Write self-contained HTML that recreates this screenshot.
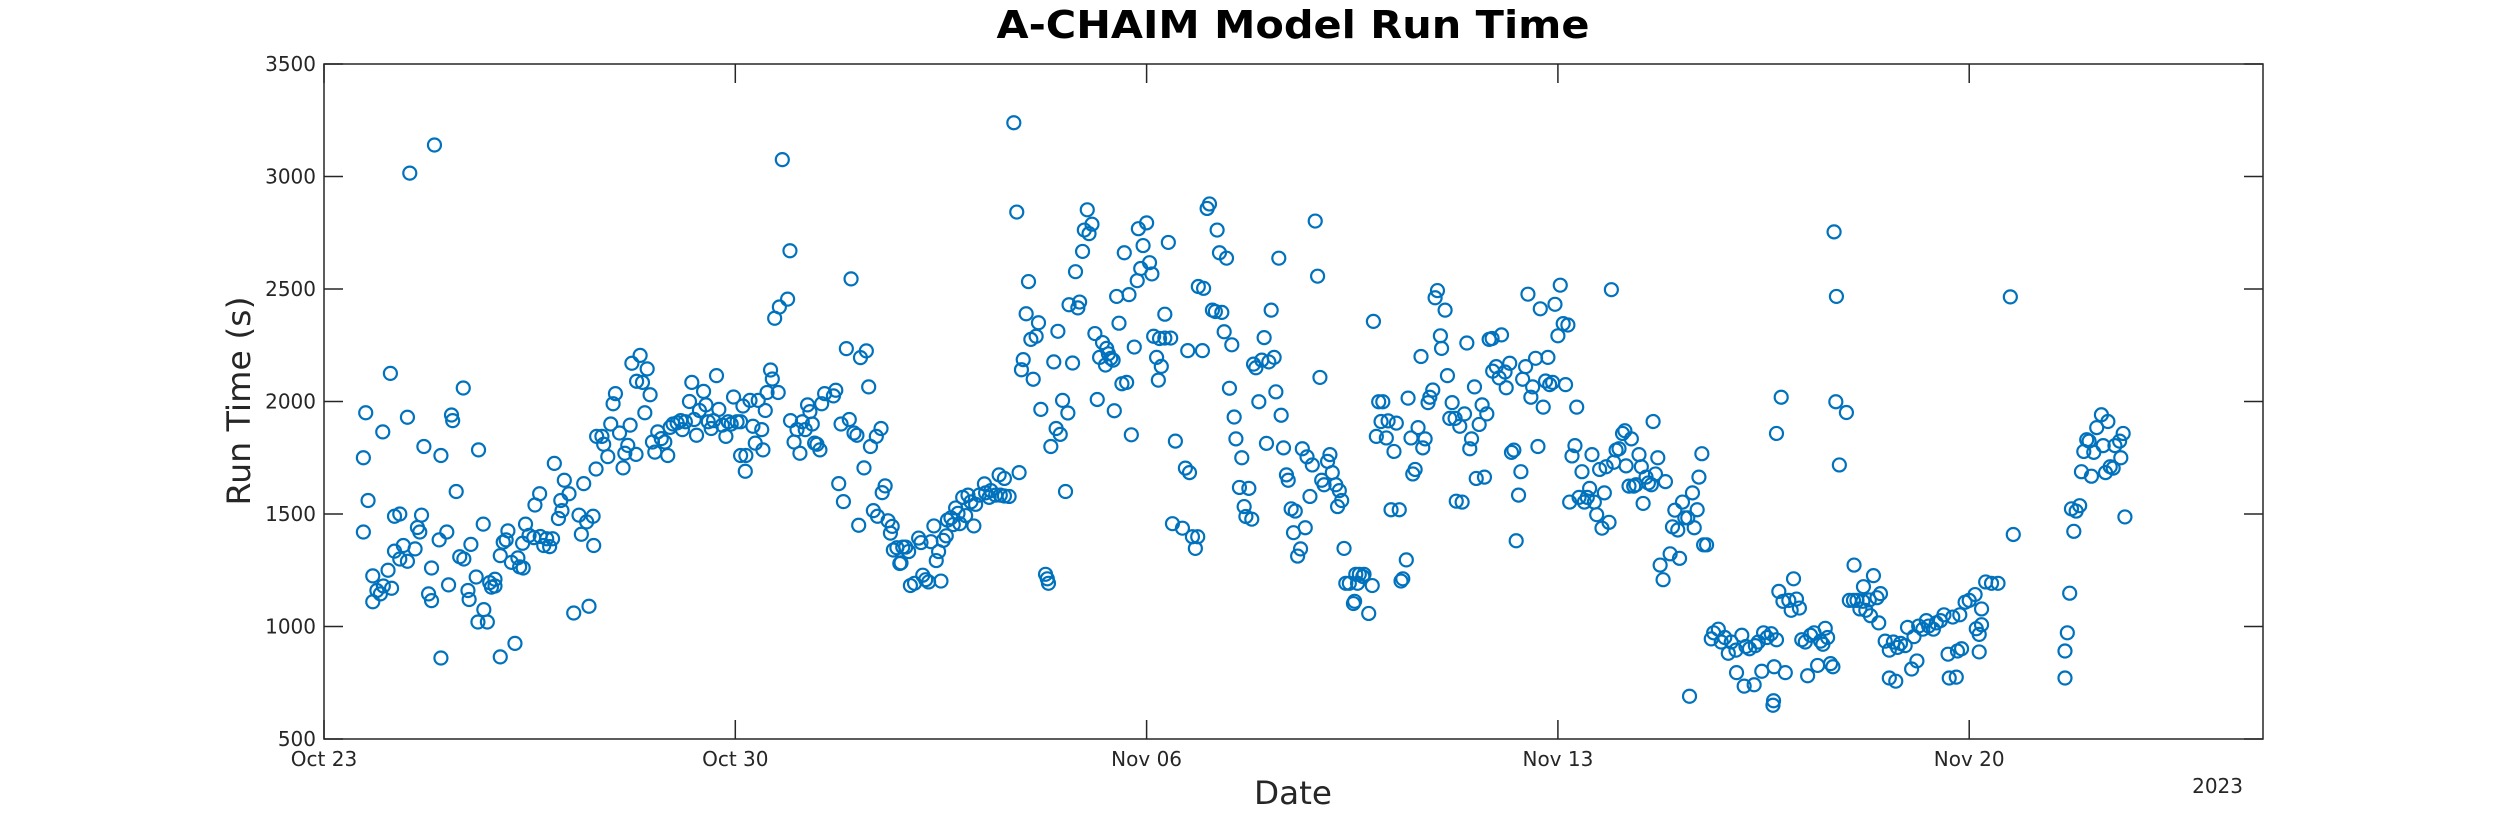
<!DOCTYPE html>
<html><head><meta charset="utf-8"><title>A-CHAIM Model Run Time</title>
<style>html,body{margin:0;padding:0;background:#fff;}svg{display:block;font-family:"DejaVu Sans","Liberation Sans",sans-serif;}</style>
</head><body>
<svg id="chart" width="2500" height="833" viewBox="0 0 2500 833" xmlns="http://www.w3.org/2000/svg">
<rect x="0" y="0" width="2500" height="833" fill="#fff"/>
<text x="1293" y="38" text-anchor="middle" font-size="38" font-weight="bold" fill="#000" textLength="593" lengthAdjust="spacingAndGlyphs">A-CHAIM Model Run Time</text>
<g id="axes"></g>
<g id="marks"></g>
<text x="1293" y="804" text-anchor="middle" font-size="32" fill="#262626" textLength="78" lengthAdjust="spacingAndGlyphs">Date</text>
<text transform="translate(250,401) rotate(-90)" text-anchor="middle" font-size="32" fill="#262626" textLength="209" lengthAdjust="spacingAndGlyphs">Run Time (s)</text>
<text x="2243" y="793" text-anchor="end" font-size="20" fill="#262626">2023</text>
</svg>
<script>
const xTickDays = [0, 7, 14, 21, 28];
const xTickLabels = ["Oct 23", "Oct 30", "Nov 06", "Nov 13", "Nov 20"];
const yTickValues = [500, 1000, 1500, 2000, 2500, 3000, 3500];
const xDomain = [0, 33];
const yDomain = [500, 3500];
// days since Oct 23 00:00
const days = [0.67,0.67,0.71,0.75,0.83,0.83,0.9,0.96,1.0,1.01,1.09,1.13,1.15,1.2,1.2,1.29,1.29,1.35,1.42,1.42,1.46,1.55,1.59,1.63,1.66,1.7,1.78,1.83,1.83,1.88,1.96,1.99,1.99,2.09,2.12,2.17,2.19,2.25,2.31,2.37,2.38,2.45,2.47,2.5,2.59,2.62,2.63,2.71,2.72,2.78,2.82,2.85,2.91,2.91,3.0,3.0,3.05,3.1,3.13,3.19,3.25,3.3,3.33,3.39,3.38,3.43,3.49,3.57,3.59,3.67,3.68,3.74,3.79,3.84,3.89,3.92,3.99,4.03,4.05,4.09,4.17,4.25,4.34,4.38,4.42,4.47,4.51,4.58,4.59,4.63,4.64,4.73,4.76,4.83,4.88,4.92,4.96,5.03,5.09,5.12,5.17,5.21,5.24,5.31,5.32,5.38,5.42,5.46,5.5,5.55,5.59,5.63,5.68,5.74,5.8,5.85,5.89,5.94,6.01,6.07,6.1,6.15,6.22,6.26,6.3,6.34,6.39,6.46,6.5,6.54,6.59,6.63,6.68,6.72,6.78,6.84,6.88,6.93,6.97,7.03,7.09,7.09,7.13,7.18,7.17,7.25,7.3,7.34,7.39,7.45,7.47,7.51,7.54,7.6,7.63,7.67,7.73,7.75,7.8,7.89,7.93,7.94,8.0,8.05,8.1,8.14,8.19,8.23,8.27,8.31,8.35,8.39,8.44,8.47,8.52,8.67,8.71,8.76,8.8,8.84,8.89,8.94,8.97,9.02,9.07,9.1,9.13,9.19,9.23,9.27,9.3,9.35,9.4,9.42,9.48,9.5,9.55,9.6,9.64,9.67,9.69,9.75,9.8,
9.82,9.85,9.9,9.95,9.98,10.05,10.12,10.16,10.19,10.24,10.29,10.33,10.38,10.42,10.46,10.5,10.54,10.59,10.61,10.67,10.71,10.75,10.79,10.82,10.87,10.92,10.96,11.01,11.06,11.09,11.15,11.24,11.26,11.32,11.35,11.43,11.49,11.51,11.58,11.58,11.66,11.74,11.79,11.83,11.87,11.9,11.95,11.99,12.03,12.07,12.12,12.16,12.2,12.28,12.31,12.33,12.37,12.42,12.46,12.49,12.53,12.57,12.62,12.66,12.68,12.74,12.79,12.83,12.86,12.91,12.94,12.99,13.02,13.07,13.12,13.16,13.2,13.25,13.3,13.32,13.35,13.39,13.43,13.45,13.49,13.53,13.58,13.62,13.66,13.7,13.74,13.79,13.84,13.86,13.9,13.94,14.0,14.05,14.09,14.12,14.17,14.22,14.25,14.2,14.31,14.31,14.37,14.41,14.44,14.49,14.61,14.66,14.73,14.7,14.78,14.83,14.87,14.88,14.95,14.97,15.03,15.07,15.12,15.2,15.17,15.24,15.28,15.32,15.36,15.41,15.45,15.49,15.52,15.58,15.62,15.66,15.69,15.74,15.79,15.82,15.86,15.91,15.96,16.0,16.04,16.08,16.12,16.17,16.2,16.25,16.29,16.33,16.38,16.41,16.46,16.5,16.53,16.57,16.62,16.65,16.7,16.73,16.78,16.82,16.87,16.91,16.95,16.98,17.02,17.08,17.12,17.16,17.22,17.28,17.25,17.32,17.36,17.39,17.45,17.52,17.56,17.59,
17.62,17.68,17.7,17.78,17.84,17.54,17.86,17.91,17.95,18.02,17.99,18.08,18.11,18.16,18.25,18.21,18.3,18.33,18.36,18.42,18.45,18.5,18.53,18.57,18.62,18.67,18.7,18.74,18.79,18.82,18.87,18.91,18.95,19.0,19.02,19.08,19.12,19.16,19.2,19.25,19.27,19.33,19.37,19.41,19.45,19.5,19.53,19.58,19.61,19.66,19.71,19.75,19.79,19.83,19.88,19.89,19.95,20.0,20.04,20.1,20.12,20.18,20.21,20.25,20.29,20.33,20.37,20.4,20.45,20.49,20.54,20.57,20.62,20.66,20.7,20.75,20.79,20.83,20.86,20.91,20.95,21.0,21.04,21.09,21.17,21.13,21.2,21.24,21.29,21.32,21.36,21.41,21.45,21.5,21.54,21.58,21.62,21.66,21.71,21.75,21.79,21.82,21.87,21.91,21.95,21.99,22.04,22.1,22.14,22.16,22.21,22.25,22.29,22.33,22.38,22.42,22.45,22.5,22.54,22.59,22.62,22.66,22.7,22.74,22.79,22.83,22.91,22.95,22.99,23.04,23.07,23.12,23.16,23.21,23.24,23.29,23.32,23.37,23.4,23.45,23.48,23.53,23.61,23.65,23.73,23.78,23.84,23.9,23.95,24.04,24.03,24.13,24.17,24.2,24.26,24.34,24.36,24.41,24.47,24.5,24.56,24.63,24.66,24.67,24.68,24.72,24.72,24.76,24.8,24.83,24.87,24.93,24.97,25.01,25.06,25.11,25.15,25.21,25.25,25.3,25.36,25.42,25.47,25.51,25.55,25.59,25.64,25.68,25.7,25.74,25.73,25.79,
25.91,25.96,26.04,26.03,26.09,26.14,26.2,26.19,26.24,26.3,26.32,26.37,26.43,26.46,26.49,26.57,26.64,26.64,26.75,26.71,26.78,26.83,26.91,26.95,27.02,27.06,27.11,27.14,27.21,27.27,27.31,27.39,27.44,27.51,27.57,27.64,27.66,27.72,27.78,27.8,27.87,27.84,27.93,28.0,28.1,28.12,28.17,28.17,28.21,28.21,28.28,28.38,28.49,28.7,28.75,29.63,29.63,29.67,29.71,29.74,29.78,29.82,29.88,29.91,29.95,30.0,30.04,30.08,30.12,30.17,30.25,30.28,30.32,30.36,30.4,30.45,30.48,30.56,30.58,30.62,30.65];
// run time in seconds
const runTimes = [1750,1420,1950,1560,1225,1110,1160,1145,1865,1180,1250,2125,1170,1490,1335,1500,1300,1360,1290,1930,3015,1345,1440,1420,1495,1800,1145,1260,1115,3140,1385,1760,860,1420,1185,1940,1915,1600,1310,2060,1300,1160,1120,1365,1220,1020,1785,1455,1075,1020,1195,1175,1210,1180,1315,865,1375,1385,1425,1285,925,1305,1265,1260,1370,1455,1405,1395,1540,1590,1400,1360,1390,1355,1390,1725,1480,1560,1515,1650,1590,1060,1495,1410,1635,1465,1090,1490,1360,1700,1845,1845,1810,1755,1900,1990,2035,1860,1705,1770,1805,1895,2170,1765,2090,2205,2085,1950,2145,2030,1820,1775,1865,1835,1820,1760,1885,1900,1905,1915,1875,1910,2000,2085,1920,1850,1960,2045,1985,1910,1880,1915,2115,1965,1895,1845,1910,1900,2020,1910,1910,1760,1980,1760,1690,2005,1890,1815,2005,1875,1785,1960,2040,2140,2100,2370,2040,2420,3075,2455,2670,1915,1820,1875,1770,1910,1875,1985,1955,1900,1815,1810,1785,1990,2035,2025,2050,1635,1900,1555,2235,1920,2545,1860,1850,1450,2195,1705,2225,2065,1800,1515,1845,1490,1880,1595,1625,1470,1415,1445,1340,1350,1280,
1283,1353,1353,1333,1182,1192,1393,1373,1228,1208,1198,1377,1447,1293,1333,1202,1383,1403,1473,1483,1453,1527,1503,1457,1574,1493,1584,1554,1447,1543,1584,1634,1594,1574,1604,1584,1674,1584,1658,1580,1578,3239,2842,1684,2141,2186,2390,2533,2276,2099,2290,2350,1965,1232,1212,1192,1800,2176,1880,2312,1854,2005,1600,1949,2430,2171,2577,2416,2442,2667,2762,2852,2746,2788,2302,2009,2196,2262,2162,2236,2212,2192,2184,1959,2467,2348,2079,2661,2085,2475,1852,2242,2537,2768,2591,2693,2794,2617,2567,2290,2196,2280,2156,2095,2282,2388,2707,2282,1457,1824,1437,1704,1684,2226,1399,1347,1399,2511,2226,2503,2858,2878,2406,2762,2400,2661,2396,2310,2637,2059,2252,1931,1834,1618,1750,1533,1489,1614,1477,2166,2150,1999,2184,2284,1814,2176,2406,2196,2043,2637,1939,1794,1674,1650,1523,1417,1513,1313,1345,1790,1439,1754,1578,1718,2802,2557,2107,1650,1630,1734,1764,1684,1630,1604,1533,1560,1347,1192,1192,1102,1232,1192,
1232,1222,1232,1058,1182,1112,2356,1845,1999,1999,1911,1838,1914,1519,1904,1778,1519,1202,1212,1296,2015,1838,1678,1698,1884,2200,1794,1834,1995,2019,2051,2461,2493,2292,2236,2406,2115,1925,1995,1925,1557,1890,1553,1945,2260,1790,1834,2065,1658,1898,1985,1664,1945,2276,2280,2135,2155,2105,2296,2131,2061,2170,1774,1784,1381,1584,1688,2099,2155,2477,2019,2065,2192,1800,2412,1975,2091,2196,2075,2085,2432,2292,2517,2346,2340,2075,1553,1758,1804,1975,1574,1688,1553,1574,1614,1764,1553,1497,1698,1437,1594,1710,1463,2497,1730,1784,1790,1858,1870,1714,1624,1834,1624,1630,1764,1710,1547,1664,1638,1630,1911,1678,1750,1273,1208,1644,1323,1443,1517,1429,1303,1553,1483,1483,690,1594,1439,1519,1664,1768,1363,1363,945,972,988,931,951,881,931,795,895,961,735,911,901,741,915,931,801,972,951,968,650,670,821,941,1858,1156,2019,1112,795,1116,1072,1212,1122,1082,941,931,781,961,972,827,935,921,992,951,835,821,2754,2467,1999,1718,
1951,1116,1273,1116,1116,1078,1177,1112,1072,1118,1048,1226,1128,1016,1146,935,895,771,757,931,907,925,915,996,811,955,847,1002,988,1026,1002,988,1016,1026,1052,877,771,1042,775,891,901,1052,1108,1116,1142,990,887,965,1078,1008,1198,1192,1192,2465,1409,771,891,972,1148,1523,1423,1513,1537,1688,1778,1830,1824,1668,1774,1884,1941,1804,1684,1911,1710,1704,1804,1824,1750,1858,1487];

const PL = 324, PR = 2263, PT = 64, PB = 739;
function xScale(d) { return PL + (d - xDomain[0]) / (xDomain[1] - xDomain[0]) * (PR - PL); }
function yScale(v) { return PB - (v - yDomain[0]) / (yDomain[1] - yDomain[0]) * (PB - PT); }
const NS = "http://www.w3.org/2000/svg";
const axes = document.getElementById('axes');
const marks = document.getElementById('marks');

const frame = document.createElementNS(NS, 'rect');
frame.setAttribute('x', PL); frame.setAttribute('y', PT);
frame.setAttribute('width', PR - PL); frame.setAttribute('height', PB - PT);
frame.setAttribute('fill', 'none'); frame.setAttribute('stroke', '#262626'); frame.setAttribute('stroke-width', '1.5');


axes.appendChild(frame);

const TL = 19;
xTickDays.forEach((d, i) => {
  const x = xScale(d);
  [[PB, PB - TL], [PT, PT + TL]].forEach(([a, b]) => {
    const t = document.createElementNS(NS, 'line');
    t.setAttribute('x1', x); t.setAttribute('x2', x); t.setAttribute('y1', a); t.setAttribute('y2', b);
    t.setAttribute('stroke', '#262626'); t.setAttribute('stroke-width', '1.5');
    
    
    axes.appendChild(t);
  });
  const lb = document.createElementNS(NS, 'text');
  lb.setAttribute('x', x); lb.setAttribute('y', 766);
  lb.setAttribute('text-anchor', 'middle'); lb.setAttribute('font-size', '20'); lb.setAttribute('fill', '#262626');
  lb.textContent = xTickLabels[i];
  
  
  axes.appendChild(lb);
});
yTickValues.forEach(v => {
  const y = yScale(v);
  [[PL, PL + TL], [PR, PR - TL]].forEach(([a, b]) => {
    const t = document.createElementNS(NS, 'line');
    t.setAttribute('x1', a); t.setAttribute('x2', b); t.setAttribute('y1', y); t.setAttribute('y2', y);
    t.setAttribute('stroke', '#262626'); t.setAttribute('stroke-width', '1.5');
    
    
    axes.appendChild(t);
  });
  const lb = document.createElementNS(NS, 'text');
  lb.setAttribute('x', PL - 8); lb.setAttribute('y', y + 7);
  lb.setAttribute('text-anchor', 'end'); lb.setAttribute('font-size', '20'); lb.setAttribute('fill', '#262626');
  lb.textContent = String(v);
  
  
  axes.appendChild(lb);
});

for (let i = 0; i < days.length; i++) {
  const c = document.createElementNS(NS, 'circle');
  c.setAttribute('cx', xScale(days[i]));
  c.setAttribute('cy', yScale(runTimes[i]));
  c.setAttribute('r', 6.5);
  c.setAttribute('fill', 'none'); c.setAttribute('stroke', '#0072BD'); c.setAttribute('stroke-width', '2.2');
  
  
  marks.appendChild(c);
}
</script>
</body></html>
